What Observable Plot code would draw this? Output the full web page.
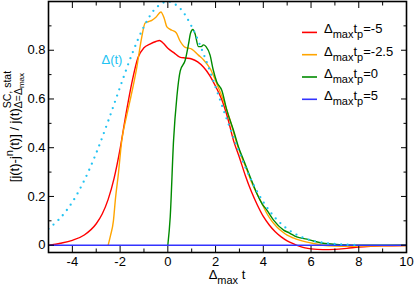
<!DOCTYPE html>
<html><head><meta charset="utf-8">
<script src="https://cdn.jsdelivr.net/npm/d3@7"></script>
<script src="https://cdn.jsdelivr.net/npm/@observablehq/plot@0.6"></script>
<style>
body{margin:0;background:#fff}
#chart svg{font-family:"Liberation Sans",Arial,Helvetica,sans-serif}
</style>
</head><body><div id="chart"></div>
<script>
// ---- data ----
const seriesNames = ["-5", "-2.5", "0", "5"];
const seriesColors = ["#ff0000", "#ffa500", "#008b00", "#3333ff"];

const redT = [-5,-4.5,-4,-3.5,-3,-2.75,-2.5,-2.25,-2,-1.75,-1.5,-1.25,-1,-0.75,-0.5,-0.35,-0.2,0,0.25,0.5,0.75,1,1.25,1.5,1.75,2,2.25,2.5,2.75,3,3.25,3.5,3.75,4,4.25,4.5,4.75,5,5.25,5.5,5.75,6,6.5,7,7.5,8,8.5,9,10];
const redV = [0,0.008,0.02,0.042,0.088,0.128,0.188,0.275,0.395,0.54,0.67,0.77,0.81,0.825,0.836,0.84,0.83,0.808,0.79,0.772,0.768,0.764,0.752,0.73,0.697,0.652,0.6,0.525,0.43,0.36,0.285,0.22,0.165,0.118,0.083,0.055,0.034,0.018,0.006,-0.004,-0.011,-0.015,-0.018,-0.017,-0.013,-0.008,-0.005,-0.003,-0.001];

const orangeT = [-2.5,-2.4,-2.28,-2.2,-2.07,-1.93,-1.75,-1.58,-1.3,-1.1,-0.95,-0.8,-0.67,-0.5,-0.29,-0.15,-0.04,0.17,0.35,0.5,0.73,1.0,1.28,1.5,1.77,2.05,2.33,2.61,2.89,3.1,3.31,3.5,3.73,4.0,4.15,4.35,4.57,4.8,5.0,5.25,5.55,6.1,6.5,7,7.5,8,9,10];
const orangeV = [0,0.04,0.1,0.185,0.295,0.43,0.52,0.595,0.73,0.85,0.912,0.918,0.923,0.935,0.957,0.93,0.896,0.882,0.872,0.84,0.812,0.805,0.78,0.76,0.725,0.663,0.595,0.513,0.418,0.36,0.31,0.26,0.212,0.16,0.13,0.1,0.075,0.055,0.041,0.03,0.02,0.007,0,-0.004,-0.005,-0.004,-0.002,-0.001];

const greenT = [0,0.1,0.24,0.38,0.52,0.73,0.87,0.95,1.05,1.14,1.28,1.4,1.49,1.6,1.77,1.9,2.05,2.26,2.47,2.75,2.96,3.17,3.45,3.73,3.95,4.15,4.43,4.85,5.1,5.4,5.83,6.1,6.39,6.94,7.5,8,9,10];
const greenV = [0,0.116,0.43,0.61,0.715,0.76,0.827,0.87,0.885,0.868,0.815,0.815,0.822,0.815,0.78,0.72,0.67,0.636,0.554,0.472,0.403,0.35,0.28,0.212,0.17,0.144,0.103,0.062,0.05,0.034,0.025,0.017,0.01,0.004,0.001,0,0,0];

const blueT = [-5,-4,-3,-2,-1,0,1,2,3,4,5,6,7,8,9,10];
const blueV = [0,0,0,0,0,0,0,0,0,0,0,0,0,0,0,0];

const deltaT = [-5,-4.5,-4,-3.5,-3,-2.5,-2,-1.5,-1,-0.5,0,0.5,1,1.5,2,2.5,3,3.5,4,4.5,5,5.5,6,6.5,7,7.5,8];
const deltaV = [0.067,0.112,0.177,0.266,0.378,0.509,0.649,0.784,0.897,0.973,1.0,0.973,0.897,0.784,0.649,0.509,0.378,0.266,0.177,0.112,0.067,0.038,0.02,0.01,0.005,0.002,0.001];

const xMajor = [-4,-2,0,2,4,6,8,10];
const xMinor = [-5,-3,-1,1,3,5,7,9];
const yMajor = [0,0.2,0.4,0.6,0.8,1.0];
const yMinor = [0.1,0.3,0.5,0.7,0.9];
const xLabels = [-4,-2,0,2,4,6,8,10];
const yLabels = [0,0.2,0.4,0.6,0.8];

// ---- tables ----
const toRows = (T, V) => T.map((t, i) => ({t, v: V[i]}));
const series = [toRows(redT, redV), toRows(orangeT, orangeV), toRows(greenT, greenV), toRows(blueT, blueV)];
const delta = toRows(deltaT, deltaV);

const cyan = "#22c3f2";
const tickAxis = (fn, anchor, ticks, size) => fn({anchor, ticks, tickSize: -size, fill: "none", label: null, stroke: "black", strokeWidth: 1});

const plot = Plot.plot({
  width: 415, height: 288,
  marginLeft: 48, marginRight: 9, marginTop: 1, marginBottom: 36,
  style: {fontFamily: "Liberation Sans, Arial, sans-serif", fontSize: "13px", background: "white", color: "black", overflow: "visible"},
  x: {domain: [-5, 10]},
  y: {domain: [-0.03, 1.0]},
  marks: [
    ...series.map((rows, i) => Plot.line(rows, {x: "t", y: "v", stroke: seriesColors[i], strokeWidth: 1.4, curve: "monotone-x", clip: true})),
    Plot.line(delta, {x: "t", y: "v", stroke: cyan, strokeWidth: 2.3, strokeDasharray: "0 6.6", strokeLinecap: "round", curve: "catmull-rom", clip: true}),
    tickAxis(Plot.axisX, "bottom", xMajor, 6),
    tickAxis(Plot.axisX, "bottom", xMinor, 3.5),
    tickAxis(Plot.axisX, "top", xMajor, 6),
    tickAxis(Plot.axisX, "top", xMinor, 3.5),
    tickAxis(Plot.axisY, "left", yMajor, 6),
    tickAxis(Plot.axisY, "left", yMinor, 3.5),
    tickAxis(Plot.axisY, "right", yMajor, 6),
    tickAxis(Plot.axisY, "right", yMinor, 3.5),
    Plot.axisX({anchor: "bottom", ticks: xLabels, tickSize: 0, tickPadding: 4, tickFormat: d => String(d), label: null, fontSize: 13}),
    Plot.axisY({anchor: "left", ticks: yLabels, tickSize: 0, tickPadding: 3, tickFormat: d => String(d), label: null, fontSize: 13}),
    Plot.frame({stroke: "black", strokeWidth: 1.6})
  ]
});
document.getElementById("chart").appendChild(plot);

// ---- annotations: legend, Δ(t) label, axis titles ----
const svg = d3.select(plot);
const g = svg.append("g").attr("font-family", "Liberation Sans, Arial, sans-serif")
  .attr("fill", "black").attr("text-anchor", "start");

// Δ(t) label
g.append("text").attr("x", 101.5).attr("y", 64).attr("font-size", 13).attr("fill", cyan).text("Δ(t)");

// legend
const lx0 = 302, lx1 = 317, ly0 = 32.4, ldy = 22.3, ltx = 324;
seriesNames.forEach((name, i) => {
  const y = ly0 + i * ldy;
  g.append("line").attr("x1", lx0).attr("x2", lx1).attr("y1", y).attr("y2", y)
    .attr("stroke", seriesColors[i]).attr("stroke-width", 1.6);
  const t = g.append("text").attr("x", ltx).attr("y", y + 1).attr("font-size", 13).attr("text-anchor", "start");
  t.append("tspan").text("Δ");
  t.append("tspan").attr("font-size", 11).attr("dy", 5).text("max");
  t.append("tspan").attr("dy", -5).text("t");
  t.append("tspan").attr("font-size", 11).attr("dy", 5).text("p");
  t.append("tspan").attr("dy", -5).text("=" + name);
});

// x axis title
const xt = g.append("text").attr("x", 227).attr("y", 279).attr("text-anchor", "middle").attr("font-size", 13);
xt.append("tspan").text("Δ");
xt.append("tspan").attr("font-size", 11).attr("dy", 4.5).text("max");
xt.append("tspan").attr("dy", -4.5).text(" t");

// y axis title (rotated)
const yg = g.append("g").attr("transform", "translate(18.5,126.5) rotate(-90)");
const yt = yg.append("text").attr("x", 0).attr("y", 0).attr("font-size", 13).attr("text-anchor", "start");
yt.append("tspan").text("[j(t)-j");
yt.append("tspan").attr("font-size", 11).attr("dy", -6).text("n");
yt.append("tspan").attr("dy", 6).text("(t)] / j(t)");
const sup = yt.append("tspan").attr("font-size", 10.5).attr("dy", -7.5).text("SC, stat");
const supW = sup.node().getComputedTextLength();
yt.append("tspan").attr("font-size", 10.5).attr("dx", -supW).attr("dy", 11).text("Δ=Δ");
yt.append("tspan").attr("font-size", 8).attr("dy", 2).text("max");
const bb = yt.node().getBBox();
yt.attr("x", -(bb.x + bb.width / 2));
</script>
</body></html>
